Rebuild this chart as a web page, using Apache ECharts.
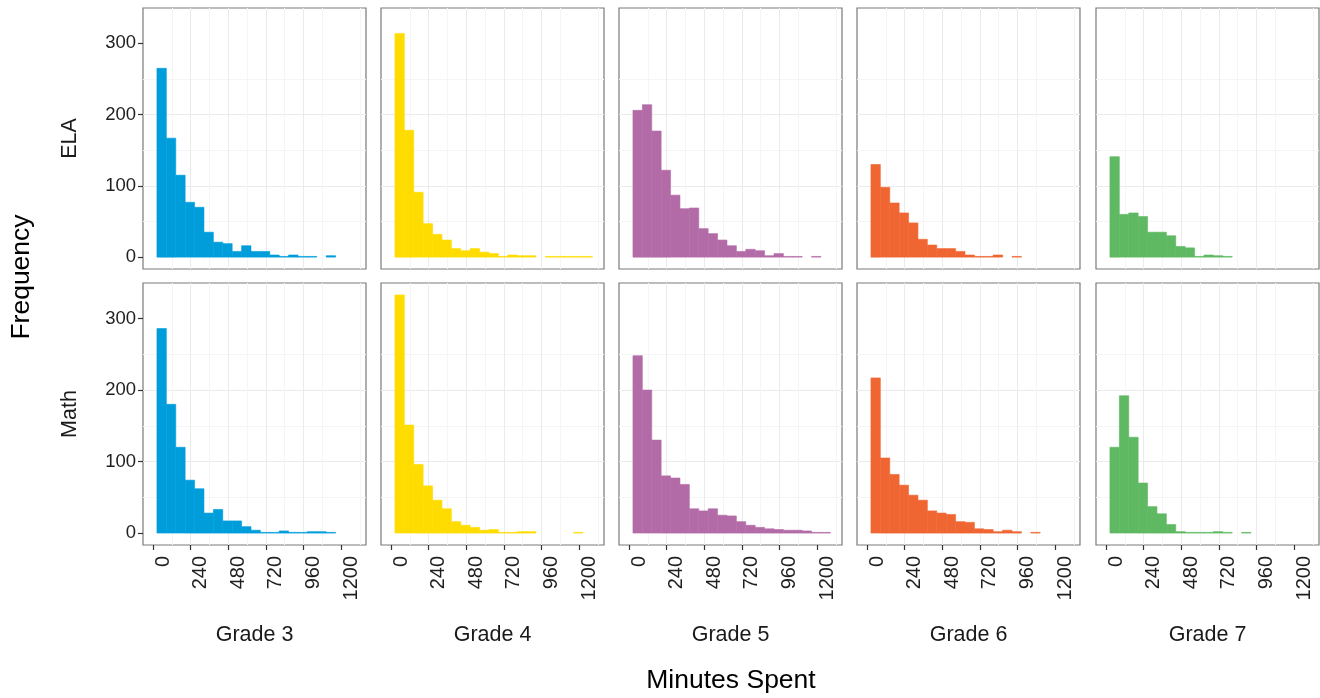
<!DOCTYPE html>
<html>
<head>
<meta charset="utf-8">
<script src="https://cdn.jsdelivr.net/npm/echarts@6/dist/echarts.min.js"></script>
<style>
  html, body { margin: 0; padding: 0; background: #ffffff; }
  #chart { width: 1320px; height: 698px; }
</style>
</head>
<body>
<div id="chart"></div>
<script>
// Facet labels
const grades = ['Grade 3', 'Grade 4', 'Grade 5', 'Grade 6', 'Grade 7'];
const subjects = ['ELA', 'Math'];

// Histogram bin edges (minutes), 60-minute bins
const binEdges = [25, 85, 145, 205, 265, 325, 385, 445, 505, 565, 625, 685,
                  745, 805, 865, 925, 985, 1045, 1105, 1165, 1225, 1285];

// Counts per bin, ELA row
const elaGrade3 = [265, 167, 115, 77, 70, 35, 21, 19, 8, 16, 8, 8, 3, 1, 3, 1, 1, 0, 2, 0, 0];
const elaGrade4 = [314, 178, 91, 47, 32, 24, 12, 9, 12, 7, 5, 1, 3, 2, 2, 0, 1, 1, 1, 1, 1];
const elaGrade5 = [206, 214, 177, 122, 87, 68, 69, 40, 33, 24, 16, 8, 11, 9, 2, 5, 1, 1, 0, 1, 0];
const elaGrade6 = [130, 98, 76, 62, 48, 25, 17, 12, 12, 8, 3, 1, 1, 3, 0, 1, 0, 0, 0, 0, 0];
const elaGrade7 = [141, 60, 62, 57, 35, 35, 30, 15, 13, 1, 3, 2, 1, 0, 0, 0, 0, 0, 0, 0, 0];

// Counts per bin, Math row
const mathGrade3 = [286, 180, 120, 74, 62, 28, 33, 17, 17, 9, 4, 1, 1, 3, 1, 1, 2, 2, 1, 0, 0];
const mathGrade4 = [333, 151, 96, 66, 46, 34, 16, 11, 8, 4, 5, 1, 1, 2, 2, 0, 0, 0, 0, 1, 0];
const mathGrade5 = [248, 200, 130, 80, 77, 68, 34, 31, 34, 25, 24, 16, 11, 8, 6, 5, 4, 4, 3, 1, 1];
const mathGrade6 = [217, 105, 82, 67, 53, 46, 31, 28, 26, 16, 15, 6, 5, 2, 4, 2, 0, 1, 0, 0, 0];
const mathGrade7 = [120, 192, 134, 70, 37, 27, 12, 2, 1, 1, 1, 2, 1, 0, 1, 0, 0, 0, 0, 0, 0];

// Tick values
const xTicks = [0, 240, 480, 720, 960, 1200];
const yTicks = [0, 100, 200, 300];

const counts = [
  [elaGrade3, elaGrade4, elaGrade5, elaGrade6, elaGrade7],
  [mathGrade3, mathGrade4, mathGrade5, mathGrade6, mathGrade7]
];
const gradeColors = ['#009ddb', '#ffdc00', '#b36ba8', '#f06633', '#5eb962'];

const FONT = '"Liberation Sans", Arial, sans-serif';
const X_MIN = -64, X_MAX = 1359;
const Y_MIN = -16.65, Y_MAX = 349.65;

const colLeft = [143, 381, 619, 857, 1096];
const colWidth = 223;
const rowTop = [8, 283];
const rowHeight = [261, 262];

const plainNumber = v => String(v);

const grid = [], xAxis = [], yAxis = [], series = [];

subjects.forEach((subject, r) => {
  grades.forEach((grade, c) => {
    const idx = grid.length;
    const isBottom = r === subjects.length - 1;
    const isLeft = c === 0;
    grid.push({
      left: colLeft[c], top: rowTop[r], width: colWidth, height: rowHeight[r],
      show: true, borderColor: '#7a7a7a', borderWidth: 1.2, backgroundColor: '#ffffff'
    });
    xAxis.push({
      type: 'value', gridIndex: idx, min: X_MIN, max: X_MAX,
      minInterval: 240, maxInterval: 240,
      name: isBottom ? grade : '', nameLocation: 'middle', nameGap: 79,
      nameTextStyle: { fontFamily: FONT, fontSize: 21.5, color: '#1a1a1a' },
      axisLine: { show: false, onZero: false },
      axisTick: { show: isBottom, length: 5, customValues: xTicks, lineStyle: { color: '#333333', width: 1.2 } },
      axisLabel: {
        show: isBottom, customValues: xTicks, rotate: 90, margin: 11,
        align: 'right', verticalAlign: 'top', formatter: plainNumber,
        fontFamily: FONT, fontSize: 20, color: '#1f1f1f'
      },
      splitLine: { show: true, showMinLine: false, showMaxLine: false, lineStyle: { color: '#ebebeb', width: 1 } },
      minorTick: { show: false, splitNumber: 2 },
      minorSplitLine: { show: true, lineStyle: { color: '#f5f5f5', width: 1 } }
    });
    yAxis.push({
      type: 'value', gridIndex: idx, min: Y_MIN, max: Y_MAX,
      minInterval: 100, maxInterval: 100,
      name: isLeft ? subject : '', nameLocation: 'middle', nameGap: 62, nameRotate: 90,
      nameTextStyle: { fontFamily: FONT, fontSize: 21.5, color: '#1a1a1a' },
      axisLine: { show: false, onZero: false },
      axisTick: { show: isLeft, length: 5, customValues: yTicks, lineStyle: { color: '#333333', width: 1.2 } },
      axisLabel: {
        show: isLeft, customValues: yTicks, margin: 7, formatter: plainNumber,
        fontFamily: FONT, fontSize: 18.5, color: '#1f1f1f'
      },
      splitLine: { show: true, showMinLine: false, showMaxLine: false, lineStyle: { color: '#ebebeb', width: 1 } },
      minorTick: { show: false, splitNumber: 2 },
      minorSplitLine: { show: true, lineStyle: { color: '#f5f5f5', width: 1 } }
    });

    const values = counts[r][c];
    const data = [];
    values.forEach((v, k) => {
      if (v > 0) data.push([binEdges[k], binEdges[k + 1], v]);
    });
    const color = gradeColors[c];
    series.push({
      type: 'custom', xAxisIndex: idx, yAxisIndex: idx,
      data: data,
      encode: { x: [0, 1], y: 2 },
      silent: true,
      renderItem: (params, api) => {
        const top = api.coord([api.value(0), api.value(2)]);
        const base = api.coord([api.value(1), 0]);
        return {
          type: 'rect',
          shape: { x: top[0], y: top[1], width: base[0] - top[0], height: base[1] - top[1] },
          style: { fill: color, stroke: color, lineWidth: 0.6 }
        };
      }
    });
  });
});

const chart = echarts.init(document.getElementById('chart'), null, { renderer: 'canvas' });
chart.setOption({
  animation: false,
  backgroundColor: '#ffffff',
  grid, xAxis, yAxis, series,
  graphic: [
    {
      type: 'text', x: 22, y: 277, rotation: Math.PI / 2,
      style: { text: 'Frequency', fontFamily: FONT, fontSize: 26.5, fill: '#000000',
               align: 'center', verticalAlign: 'middle' }
    },
    {
      type: 'text', x: 731, y: 681,
      style: { text: 'Minutes Spent', fontFamily: FONT, fontSize: 26.5, fill: '#000000',
               align: 'center', verticalAlign: 'middle' }
    }
  ]
});
</script>
</body>
</html>
